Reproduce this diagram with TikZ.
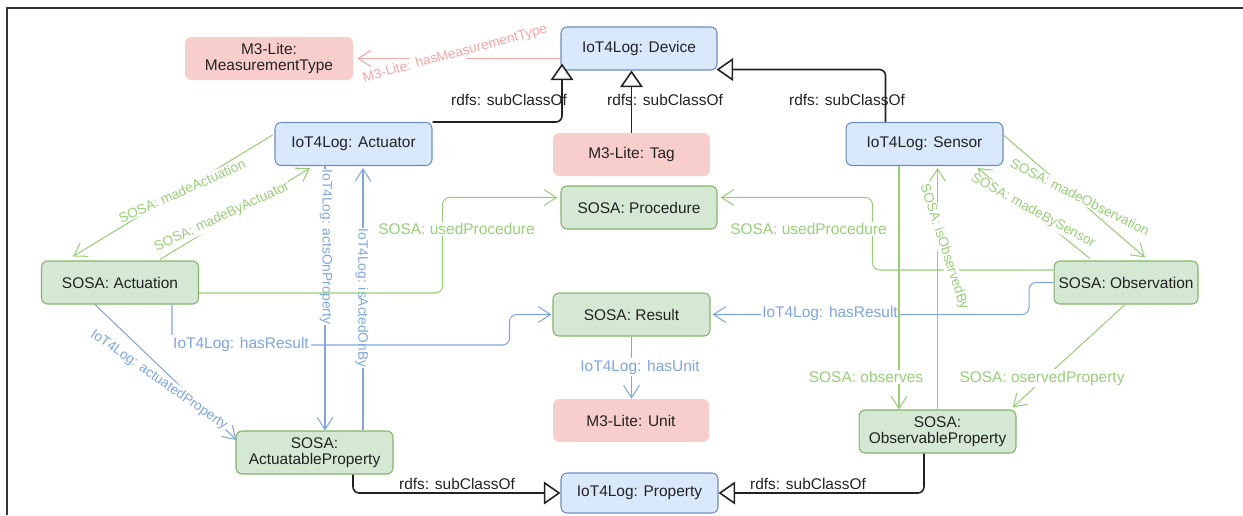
\documentclass[tikz,border=0pt]{standalone}
\usepackage{fontspec}
\setmainfont{Liberation Sans}
\usetikzlibrary{arrows.meta,calc}

\definecolor{bluefill}{HTML}{DAE8FC}
\definecolor{bluestroke}{HTML}{6C8EBF}
\definecolor{greenfill}{HTML}{D5E8D4}
\definecolor{greenstroke}{HTML}{82B366}
\definecolor{pinkfill}{HTML}{F8CECC}
\definecolor{relgreen}{HTML}{97D077}
\definecolor{relblue}{HTML}{7EA6E0}
\definecolor{relpink}{HTML}{F4A6A4}
\definecolor{framegray}{HTML}{333333}
\definecolor{inktext}{HTML}{222222}

\begin{document}
\begin{tikzpicture}[x=0.02cm,y=-0.02cm,
  every node/.style={font=\fontsize{8.8}{9.4}\selectfont},
  box/.style={rectangle, rounded corners=3.5pt, minimum width=3.12cm,
    minimum height=0.86cm, align=center, inner sep=0pt, text=inktext},
  bluebox/.style={box, fill=bluefill, draw=bluestroke, line width=0.6pt},
  greenbox/.style={box, fill=greenfill, draw=greenstroke, line width=0.6pt},
  pinkbox/.style={box, fill=pinkfill},
  subarrow/.style={draw=inktext, line width=0.9pt, rounded corners=3.5pt,
    -{Triangle[length=9.5pt,width=13pt,fill=white]}},
  relarrow/.style={line width=0.6pt, rounded corners=4pt,
    -{Straight Barb[length=7pt,width=9pt]}},
  grel/.style={relarrow, draw=relgreen},
  brel/.style={relarrow, draw=relblue},
  prel/.style={relarrow, draw=relpink},
  sublbl/.style={text=inktext, inner sep=1pt},
  glbl/.style={text=relgreen, fill=white, inner sep=1pt},
  blbl/.style={text=relblue, fill=white, inner sep=1pt},
  plbl/.style={text=relpink, fill=white, inner sep=1pt},
  tilted/.style={font=\fontsize{7.8}{9}\selectfont, inner sep=0.5pt},
]
\useasboundingbox (0,0) rectangle (1243,515);

% frame edges
\draw[framegray, line width=1pt] (7,515) -- (7,8) -- (1243,8);

% classes
\node[bluebox] (device) at (639,48.5) {IoT4Log: Device};
\node[pinkbox, minimum width=3.36cm] (mtype) at (269,58.5) {M3-Lite:\\MeasurementType};
\node[bluebox, minimum width=3.14cm] (actuator) at (353.5,144) {IoT4Log: Actuator};
\node[pinkbox, minimum width=3.14cm] (tag) at (631.5,154.5) {M3-Lite: Tag};
\node[bluebox, minimum width=3.14cm] (sensor) at (924.5,144) {IoT4Log: Sensor};
\node[greenbox] (procedure) at (639,207.5) {SOSA: Procedure};
\node[greenbox, minimum width=3.14cm] (actuation) at (120,282.5) {SOSA: Actuation};
\node[greenbox, minimum width=2.88cm] (observation) at (1126,282.5) {SOSA: Observation};
\node[greenbox, minimum width=3.14cm] (result) at (631.5,314.5) {SOSA: Result};
\node[pinkbox] (unit) at (631,420.5) {M3-Lite: Unit};
\node[greenbox, minimum width=3.14cm] (actprop) at (314.5,452.5) {SOSA:\\ActuatableProperty};
\node[greenbox, minimum width=3.14cm] (obsprop) at (937.5,431.5) {SOSA:\\ObservableProperty};
\node[bluebox, minimum width=3.14cm, minimum height=0.8cm] (property) at (639.5,493) {IoT4Log: Property};

% rdfs:subClassOf
\draw[subarrow] (actuator.north east) -| ($(device.south west)+(1.5,-7)$);
\draw[subarrow] (tag.north) -- (tag.north |- device.south);
\draw[subarrow] ($(sensor.north west)+(40,0)$) |- ($(device.south east)+(-1,-1)$);
\draw[subarrow] ($(actprop.south)+(38.5,0)$) |- (property.west);
\draw[subarrow] ($(obsprop.south)+(-13.5,0)$) |- (property.east);
\node[sublbl] (lsubA) at (509,100) {rdfs: subClassOf};
\node[sublbl] (lsubT) at (665,100) {rdfs: subClassOf};
\node[sublbl] (lsubS) at (847,100) {rdfs: subClassOf};
\node[sublbl] (lsubAP) at (457,484) {rdfs: subClassOf};
\node[sublbl] (lsubOP) at (808,484) {rdfs: subClassOf};

% measurement type
\draw[prel] (device.west |- mtype.east) -- ($(mtype.east)+(4,0)$);
\node[plbl, tilted, rotate=15] (lmt) at (455,54) {M3-Lite: hasMeasurementType};

% actuation side
\draw[grel] ($(actuator.west)+(-2,-9)$) -- ($(actuation.north)+(-47,-4)$);
\node[glbl, tilted, rotate=24] (lma) at (182,191) {SOSA: madeActuation};
\draw[grel] ($(actuation.north)+(40,-1)$) -- ($(actuator.south)+(-43.5,2)$);
\node[glbl, tilted, rotate=25] (lmba) at (222,217) {SOSA: madeByActuator};

\draw[brel] ($(actuator.south)+(-28.5,0)$) coordinate (aop) -- (aop |- actprop.north);
\node[blbl, tilted, rotate=-90] (laop) at (326,247) {IoT4Log: actsOnProperty};
\draw[brel] ($(actprop.north)+(48.5,0)$) coordinate (iab) -- ($(iab |- actuator.south)+(0,2)$);
\node[blbl, tilted, rotate=-90] (liab) at (362,298) {IoT4Log: isActedOnBy};

\draw[brel] ($(actuation.south)+(-25,0)$) -- ($(actprop.west)+(1,-12.5)$);
\node[blbl, tilted, rotate=-35] (lap) at (159,380) {IoT4Log: actuatedProperty};

% procedures
\draw[grel] ($(actuation.east)+(0,10.5)$) -| ($(procedure.west)+(-118,-10)$) -- ($(procedure.west)+(-3,-10)$);
\node[glbl] (lupA) at (456.5,229) {SOSA: usedProcedure};
\draw[grel] ($(observation.west)+(0,-12.5)$) -| ($(procedure.east)+(155,-10)$) -- ($(procedure.east)+(3,-10)$);
\node[glbl] (lupO) at (808.5,229) {SOSA: usedProcedure};

% results
\draw[brel] ($(actuation.south)+(52,0)$) |- ($(result.west)+(-43,30.5)$) |- ($(result.west)+(-1,0)$);
\node[blbl] (lhrA) at (241,344) {IoT4Log: hasResult};
\draw[brel] (observation.west) -| ($(result.east)+(318.5,0)$) -- ($(result.east)+(2,0)$);
\node[blbl] (lhrO) at (830,313) {IoT4Log: hasResult};
\draw[brel] (result.south) -- (result.south |- unit.north);
\node[blbl] (lunit) at (640,367) {IoT4Log: hasUnit};

% sensor side
\draw[grel] ($(sensor.east)+(0,-9)$) -- ($(observation.north)+(19,-3)$);
\node[glbl, tilted, rotate=-27] (lmo) at (1080,197) {SOSA: madeObservation};
\draw[grel] ($(observation.north)+(-36,-2)$) -- ($(sensor.south east)+(-26,2)$);
\node[glbl, tilted, rotate=-29] (lmbs) at (1033,211) {SOSA: madeBySensor};

\draw[grel] ($(sensor.south)+(-25.5,0)$) coordinate (obs) -- (obs |- obsprop.north);
\node[glbl] (lobs) at (866,377) {SOSA: observes};
\draw[grel] (obsprop.north) -- ($(obsprop.north |- sensor.south)+(0,2)$);
\node[glbl, tilted, rotate=-72] (liob) at (944,247) {SOSA: isObservedBy};

\draw[grel] ($(observation.south)+(-1,0)$) -- ($(obsprop.north east)+(-4,-2)$);
\node[glbl] (lop) at (1042,378) {SOSA: oservedProperty};
\end{tikzpicture}
\end{document}
